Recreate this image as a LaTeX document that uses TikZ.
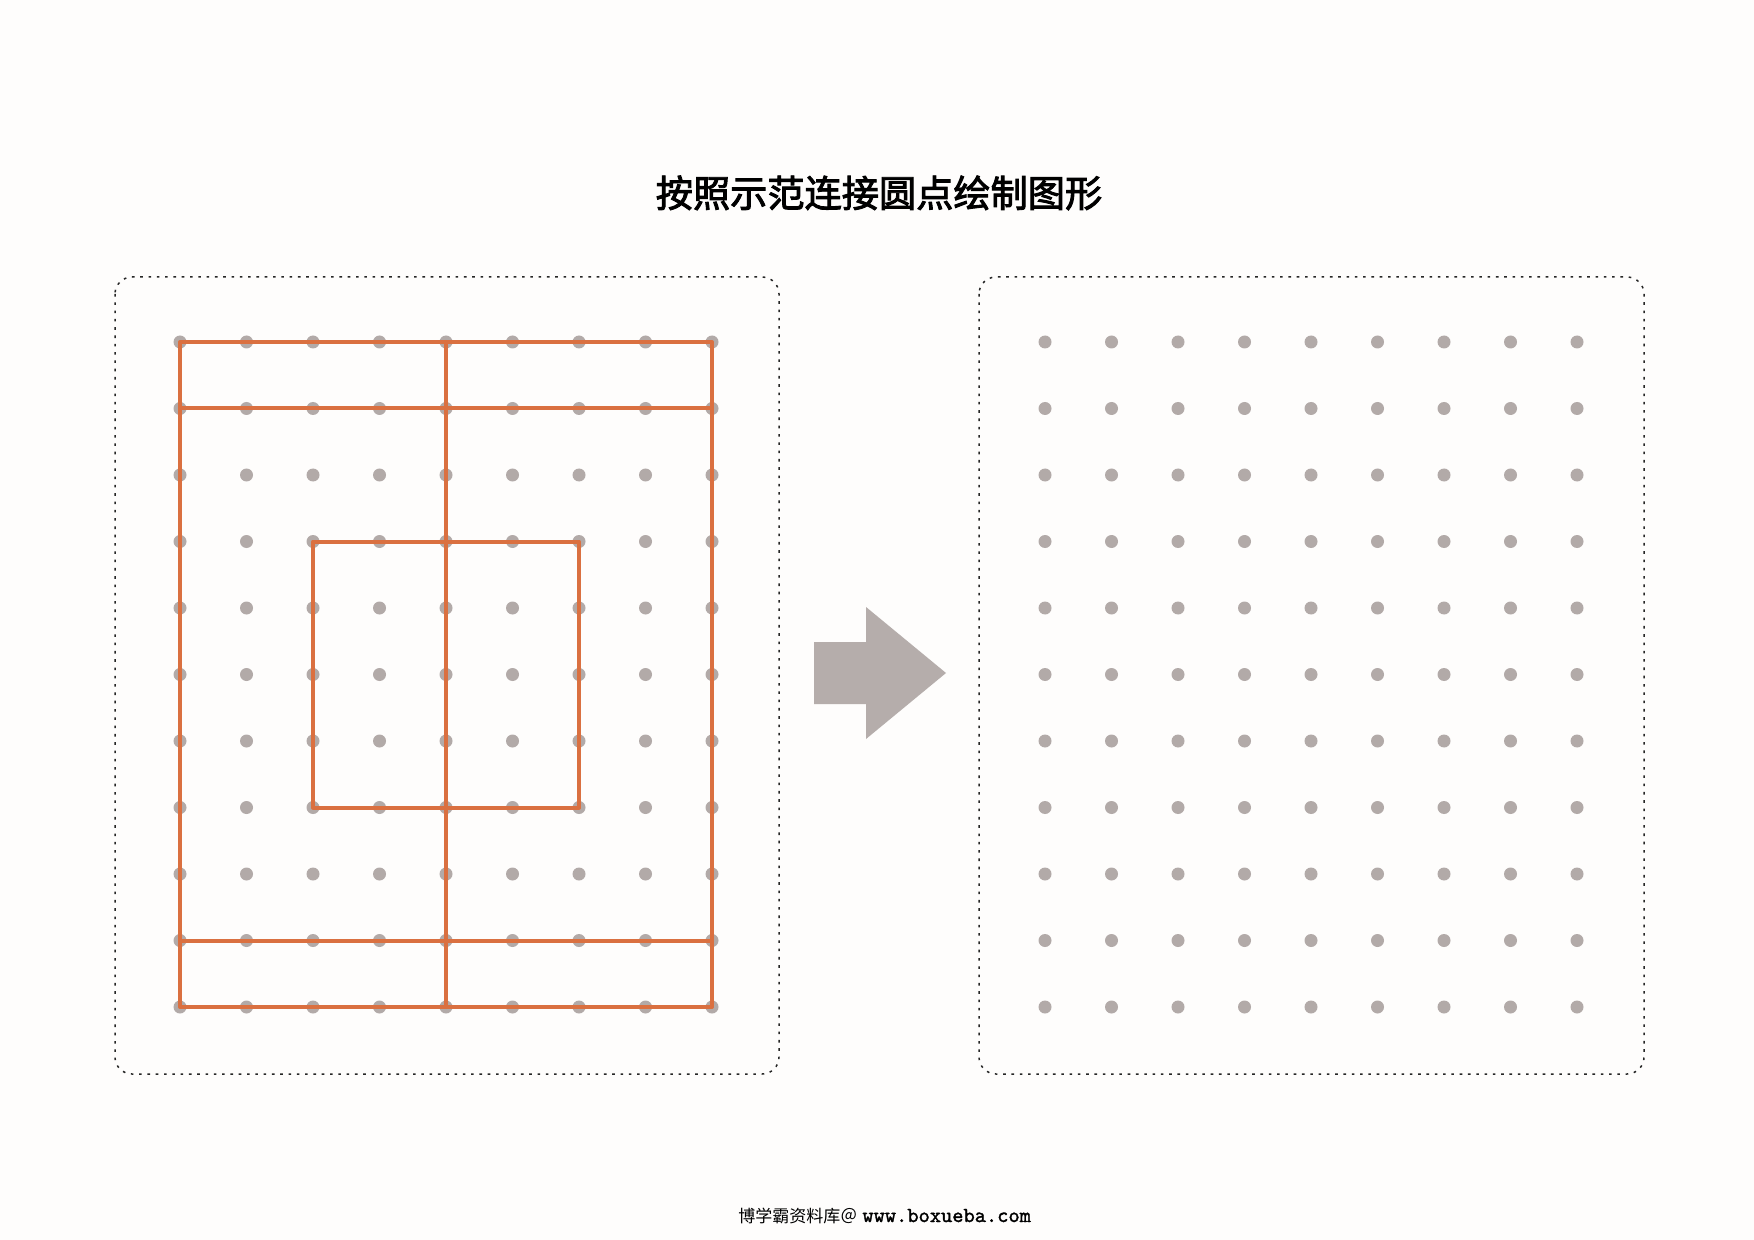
\documentclass[tikz,border=0pt]{standalone}
\usepackage{fontspec}
\newfontfamily\cjk{Noto Sans CJK SC}
\newfontfamily\cjktitle[FakeBold=2.5]{Noto Sans CJK SC}
\newfontfamily\monob[FakeBold=1.5]{Latin Modern Mono}
\definecolor{dotgrey}{RGB}{178,170,168}
\definecolor{arrowgrey}{RGB}{181,173,171}
\definecolor{lineorange}{RGB}{218,112,64}
\definecolor{bgcol}{RGB}{254,253,252}
\tikzset{
  gdot/.style={fill=dotgrey},
  pathline/.style={draw=lineorange,line width=2pt,line cap=round,line join=round},
  framebox/.style={draw=black!85,line width=0.75pt,dash pattern=on 1.3pt off 2.85pt,rounded corners=8.5pt},
  bigarrow/.style={fill=arrowgrey},
}
\begin{document}
\begin{tikzpicture}[x=0.5pt,y=-0.5pt]
\fill[bgcol] (0,0) rectangle (1754,1240);
\useasboundingbox (0,0) rectangle (1754,1240);
% title
\node[anchor=base,inner sep=0pt,font=\cjktitle\fontsize{18.6pt}{20pt}\selectfont] (title) at (879,207) {按照示范连接圆点绘制图形};
% frames
\draw[framebox] (115,277) rectangle (779,1074);
\draw[framebox] (979,277) rectangle (1644,1074);
% grid coordinates
\foreach \i in {0,...,8}{
  \foreach \j in {0,...,10}{
    \coordinate (L-\i-\j) at ({180+66.5*\i},{342+66.5*\j});
    \coordinate (R-\i-\j) at ({1045+66.5*\i},{342+66.5*\j});
    \fill[gdot] (L-\i-\j) circle[radius=6.5];
    \fill[gdot] (R-\i-\j) circle[radius=6.5];
  }
}
% example figure
\draw[pathline] (L-0-0) -- (L-8-0) -- (L-8-10) -- (L-0-10) -- cycle;
\draw[pathline] (L-0-1) -- (L-8-1);
\draw[pathline] (L-0-9) -- (L-8-9);
\draw[pathline] (L-4-0) -- (L-4-10);
\draw[pathline] (L-2-3) -- (L-6-3) -- (L-6-7) -- (L-2-7) -- cycle;
% arrow
\coordinate (a1) at (814,642);
\coordinate (a2) at (866,642);
\coordinate (a3) at (866,607);
\coordinate (a4) at (946,673);
\coordinate (a5) at (866,739);
\coordinate (a6) at (866,704);
\coordinate (a7) at (814,704);
\fill[bigarrow] (a1) -- (a2) -- (a3) -- (a4) -- (a5) -- (a6) -- (a7) -- cycle;
% footer
\node[anchor=base west,inner sep=0pt] (footer) at (738,1222) {{\cjk\fontsize{8.5pt}{10pt}\selectfont 博学霸资料库＠}\hspace{2.5pt}{\monob\fontsize{10.7pt}{11pt}\selectfont www.boxueba.com}};
\end{tikzpicture}
\end{document}
